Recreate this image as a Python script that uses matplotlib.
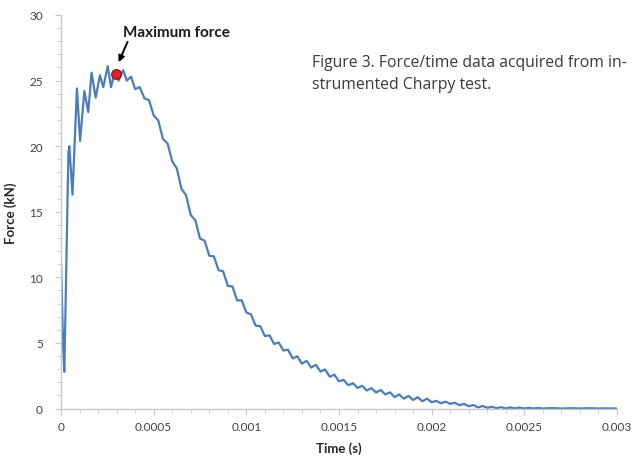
import matplotlib
matplotlib.use("Agg")
import matplotlib.pyplot as plt
from matplotlib.ticker import FixedLocator, MultipleLocator

# ---- data ----
time_us = [0, 12, 18, 40, 45, 62, 86, 103, 126, 147, 165, 187, 210, 228, 252, 270,
           290, 310, 335, 355, 378,
           400, 425, 450, 475, 500, 525, 550, 575, 600, 625, 650, 675, 700, 725, 750, 775,
           800, 825, 850, 875, 900, 925, 950, 975, 1000, 1025, 1050, 1075, 1100, 1125,
           1150, 1175, 1200, 1225, 1250, 1275, 1300, 1325, 1350, 1375, 1400, 1425, 1450,
           1475, 1500, 1525, 1550, 1575, 1600, 1625, 1650, 1675, 1700, 1725, 1750, 1775,
           1800, 1825, 1850, 1875, 1900, 1925, 1950, 1975, 2000, 2025, 2050, 2075, 2100,
           2125, 2150, 2175, 2200, 2225, 2250, 2275, 2300, 2325, 2350, 2375, 2400, 2425,
           2450, 2475, 2500, 2525, 2550, 2575, 2600, 2650, 2700, 2750, 2800, 2850, 2900,
           2950, 3000]
force_kn = [11.2, 4.5, 2.8, 19.5, 20.0, 16.3, 24.4, 20.4, 24.2, 22.6, 25.6, 23.7, 25.4, 24.5, 26.1, 24.5,
            25.7, 25.0, 25.8, 25.0, 25.3,
            24.35, 24.5, 23.65, 23.5, 22.35, 21.95, 20.55, 20.2, 18.85, 18.3, 16.75, 16.25,
            14.75, 14.35, 12.95, 12.8, 11.65, 11.6, 10.55, 10.45, 9.35, 9.3, 8.25, 8.25,
            7.32, 7.18, 6.32, 6.28, 5.52, 5.58, 4.92, 5.03, 4.42, 4.48, 3.82, 3.98, 3.42,
            3.63, 3.12, 3.33, 2.82, 2.98, 2.42, 2.58, 2.07, 2.18, 1.77, 1.93, 1.57, 1.73,
            1.37, 1.55, 1.22, 1.41, 1.07, 1.23, 0.87, 1.07, 0.75, 0.96, 0.65, 0.86, 0.55,
            0.75, 0.48, 0.58, 0.40, 0.52, 0.35, 0.44, 0.25, 0.35, 0.17, 0.27, 0.08, 0.19,
            0.06, 0.125, 0.03, 0.1, 0.01, 0.085, 0.0, 0.075, 0.0, 0.05, 0.0, 0.04, 0.0,
            0.03, 0.0, 0.02, 0.0, 0.02, 0.0, 0.01, 0.0]
max_time_s = 0.000297
max_force_kn = 25.5

x_ticks = [0, 0.0005, 0.001, 0.0015, 0.002, 0.0025, 0.003]
x_tick_labels = ["0", "0.0005", "0.001", "0.0015", "0.002", "0.0025", "0.003"]
y_ticks = [0, 5, 10, 15, 20, 25, 30]
y_tick_labels = ["0", "5", "10", "15", "20", "25", "30"]

time_s = [t / 1e6 for t in time_us]

# ---- figure ----
plt.rcParams['font.family'] = ['Lato', 'DejaVu Sans']
fig = plt.figure(figsize=(6.38, 4.60), dpi=100)
ax = fig.add_axes([61 / 638, 1 - 409.5 / 460, (617 - 61) / 638, (409.5 - 16) / 460])

ax.plot(time_s, force_kn, color="#4a7ebb", lw=1.6, solid_joinstyle="round")
ax.plot([max_time_s], [max_force_kn], marker="o", ms=7, color="#e0202a",
        markeredgecolor="#8b1010", markeredgewidth=0.8, zorder=5)

ax.annotate("Maximum force", xy=(0.000311, 26.4), xytext=(0.000337, 28.7),
            fontsize=11, fontweight="bold", color="#1a1a1a", ha="left", va="center",
            arrowprops=dict(arrowstyle="-|>", color="black", lw=1.4, mutation_scale=9,
                            shrinkA=0, shrinkB=0, relpos=(0.05, 0.0)))

ax.set_xlim(0, 0.003)
ax.set_ylim(0, 30)
ax.xaxis.set_major_locator(FixedLocator(x_ticks))
ax.set_xticklabels(x_tick_labels)
ax.xaxis.set_minor_locator(MultipleLocator(0.0001))
ax.yaxis.set_major_locator(FixedLocator(y_ticks))
ax.set_yticklabels(y_tick_labels)
ax.yaxis.set_minor_locator(MultipleLocator(1))

for s in ["top", "right"]:
    ax.spines[s].set_visible(False)
for s in ["left", "bottom"]:
    ax.spines[s].set_color("#c8c8c8")
    ax.spines[s].set_linewidth(1.0)

ax.tick_params(axis="both", which="both", color="#c8c8c8", labelcolor="#404040",
               labelsize=8.5, direction="out")
ax.tick_params(axis="both", which="major", length=4)
ax.tick_params(axis="both", which="minor", length=3)
ax.tick_params(axis="y", which="major", pad=9)
ax.tick_params(axis="x", which="major", pad=5)

ax.set_xlabel("Time (s)", fontsize=9.5, fontweight="bold", color="#262626", labelpad=7)
ax.set_ylabel("Force (kN)", fontsize=9.5, fontweight="bold", color="#262626", labelpad=9)

fig.text(312 / 638, 1 - 74 / 460, "Figure 3. Force/time data acquired from in-\nstrumented Charpy test.",
         fontsize=11.3, color="#3a3a3a", ha="left", va="center", linespacing=1.5,
         family=["Open Sans", "DejaVu Sans"])

fig.savefig("out.png", dpi=100, facecolor="white")
